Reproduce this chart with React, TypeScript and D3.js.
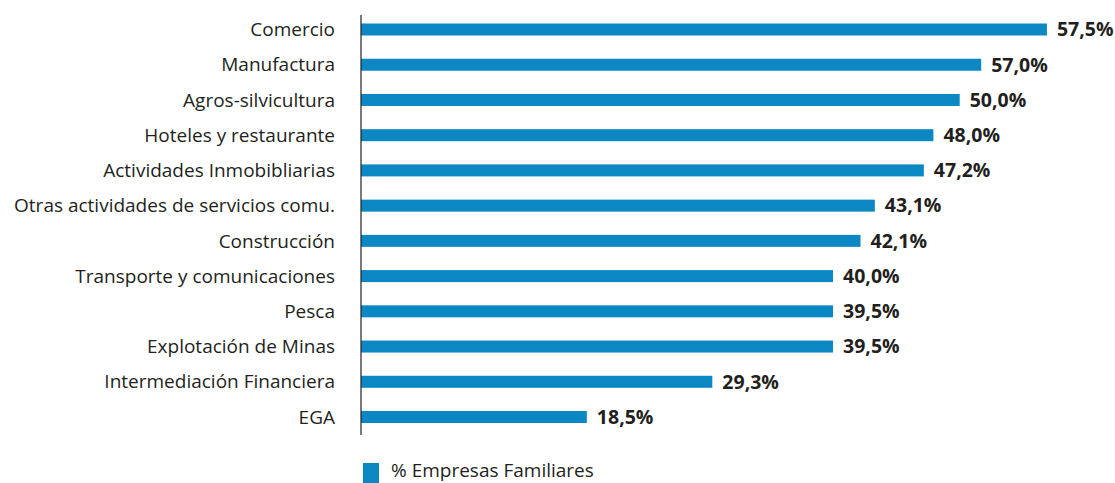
import React from "react";
import * as d3 from "d3";

const categories = [
  "Comercio",
  "Manufactura",
  "Agros-silvicultura",
  "Hoteles y restaurante",
  "Actividades Inmobibliarias",
  "Otras actividades de servicios comu. ",
  "Construcción",
  "Transporte y comunicaciones",
  "Pesca",
  "Explotación de Minas",
  "Intermediación Financiera ",
  "EGA",
];

// bar lengths as drawn in the picture (%)
const barValues = [57.4, 51.9, 50.1, 47.9, 47.1, 43.0, 41.8, 39.5, 39.5, 39.5, 29.4, 18.9];
// value labels as printed
const valueLabels = ["57,5%", "57,0%", "50,0%", "48,0%", "47,2%", "43,1%", "42,1%", "40,0%", "39,5%", "39,5%", "29,3%", "18,5%"];
const seriesName = "% Empresas Familiares";

const W = 1115;
const H = 483;
const FONT = "'Open Sans', 'Noto Sans', sans-serif";
const BLUE = "#0b88c4";
const TEXT = "#231f20";

export default function App() {
  const x = d3.scaleLinear().domain([0, 60]).range([361, 361 + 60 * 11.95]);
  const y = d3.scalePoint<string>().domain(categories).range([29.5, 417]);
  const barH = 12;

  return (
    <svg
      width={W}
      height={H}
      style={{ position: "absolute", left: 0, top: 0, background: "#fff" }}
      fontFamily={FONT}
    >
      {categories.map((c, i) => {
        const cy = y(c)!;
        return (
          <g key={c}>
            <text x={335} y={cy} dy="0.35em" textAnchor="end" fontSize={19} fill={TEXT}>
              {c.trimEnd()}
            </text>
            <rect x={x(0)} y={cy - barH / 2} width={x(barValues[i]) - x(0)} height={barH} fill={BLUE} />
            <text
              x={x(barValues[i]) + 10}
              y={cy}
              dy="0.35em"
              fontSize={19.5}
              fontWeight="bold"
              fill={TEXT}
            >
              {valueLabels[i]}
            </text>
          </g>
        );
      })}
      <line x1={361} x2={361} y1={15} y2={435} stroke={TEXT} strokeWidth={1.2} />
      <rect x={363} y={463} width={16} height={20} fill={BLUE} />
      <text x={391} y={477} fontSize={19} fill={TEXT}>
        {seriesName}
      </text>
    </svg>
  );
}
